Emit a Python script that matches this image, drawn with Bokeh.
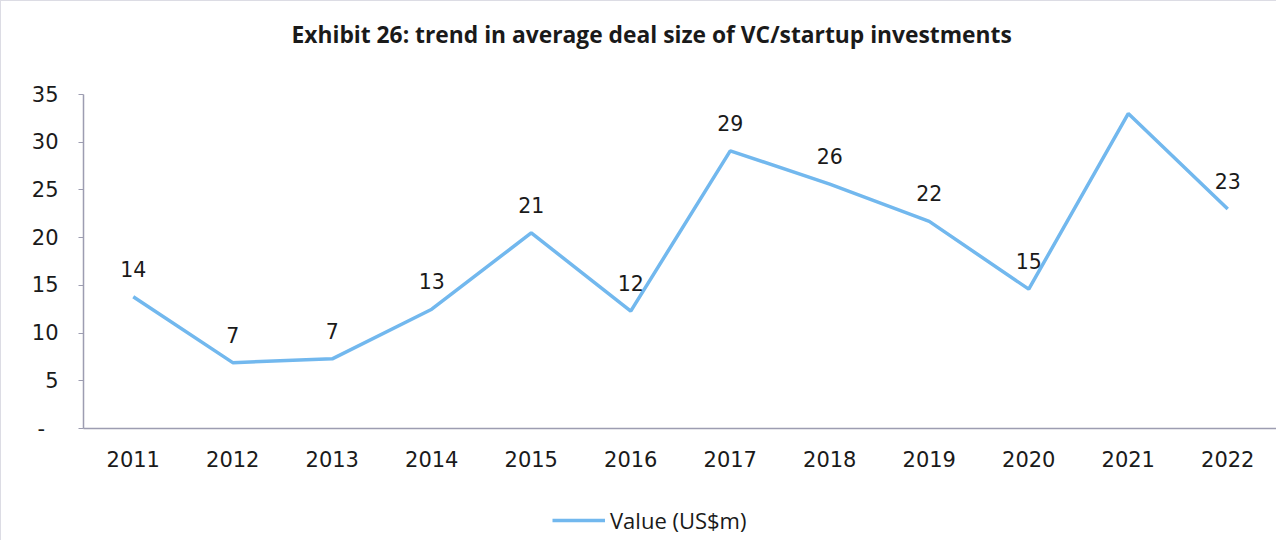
from bokeh.plotting import figure
from bokeh.layouts import column
from bokeh.models import ColumnDataSource, LabelSet, Legend, LegendItem, FixedTicker, Title
from bokeh.core.properties import value
from bokeh.embed import file_html
from bokeh.resources import INLINE

years = ["2011", "2012", "2013", "2014", "2015", "2016", "2017", "2018", "2019", "2020", "2021", "2022"]
values = [13.8, 6.9, 7.3, 12.5, 20.5, 12.3, 29.1, 25.6, 21.7, 14.6, 33.0, 23.0]
labels = ["14", "7", "7", "13", "21", "12", "29", "26", "22", "15", "33", "23"]
y_ticks = [0, 5, 10, 15, 20, 25, 30, 35]
series_name = "Value (US$m)"

LINE = "#72b8ee"
AXIS = "#9d9db1"
TXT = "#1a1a1a"
BORDER = "1px solid #dcdce4"

src = ColumnDataSource(dict(x=years, y=values, lab=labels))

p = figure(x_range=years, y_range=(0, 35), width=1276, height=480,
           output_backend="svg", toolbar_location=None,
           min_border_left=82, min_border_right=0, min_border_top=93, min_border_bottom=53)
p.styles = {"border-left": BORDER, "border-top": BORDER}
p.outline_line_color = None
p.xgrid.grid_line_color = None
p.ygrid.grid_line_color = None

p.title.text = "Exhibit 26: trend in average deal size of VC/startup investments"
p.title.align = "left"
p.title.offset = 208
p.title.text_font = "Open Sans"
p.title.text_font_size = "22.8px"
p.title.text_font_style = "bold"
p.title.text_color = TXT
p.title.standoff = 8

# empty spacer between the title and the plot area
p.add_layout(Title(text="\u00a0", text_font_size="22.8px", standoff=13), "above")

r = p.line("x", "y", source=src, line_color=LINE, line_width=3.5)

labs = LabelSet(x="x", y="y", text="lab", source=src, y_offset=28,
                text_align="center", text_baseline="middle",
                text_font=value("DejaVu Sans"), text_font_size="20.5px", text_color=TXT)
p.add_layout(labs)

p.yaxis.ticker = FixedTicker(ticks=y_ticks)
p.yaxis.major_label_overrides = {0: "-\u00a0\u00a0"}
p.yaxis.axis_line_color = AXIS
p.yaxis.axis_line_width = 1.5
p.yaxis.major_tick_line_color = AXIS
p.yaxis.major_tick_out = 5
p.yaxis.major_tick_in = 0
p.yaxis.minor_tick_line_color = None
p.yaxis.major_label_standoff = 20
p.yaxis.major_label_text_font = "DejaVu Sans"
p.yaxis.major_label_text_font_size = "21px"
p.yaxis.major_label_text_color = TXT

p.xaxis.axis_line_color = AXIS
p.xaxis.axis_line_width = 1.5
p.xaxis.major_tick_line_color = None
p.xaxis.major_label_standoff = 16
p.xaxis.major_label_text_font = "DejaVu Sans"
p.xaxis.major_label_text_font_size = "21px"
p.xaxis.major_label_text_color = TXT

# legend strip below the chart
p2 = figure(x_range=years, y_range=(1000, 1001), width=1276, height=60,
            output_backend="svg", toolbar_location=None,
            min_border_left=0, min_border_right=0, min_border_top=0, min_border_bottom=0,
            x_axis_location=None, y_axis_location=None)
p2.styles = {"border-left": BORDER}
p2.outline_line_color = None
p2.xgrid.grid_line_color = None
p2.ygrid.grid_line_color = None
r2 = p2.line("x", "y", source=src, line_color=LINE, line_width=3.5)

legend = Legend(items=[LegendItem(label=series_name, renderers=[r2])],
                location=(469, 5), orientation="horizontal",
                glyph_width=53, glyph_height=20, label_text_font="Open Sans", label_text_font_size="22px",
                label_text_color=TXT, border_line_color=None, background_fill_alpha=0,
                margin=0, padding=0, spacing=0, label_standoff=5)
p2.add_layout(legend, "center")

layout = column(p, p2, spacing=0)
open("out.html", "w").write(file_html(layout, INLINE))
